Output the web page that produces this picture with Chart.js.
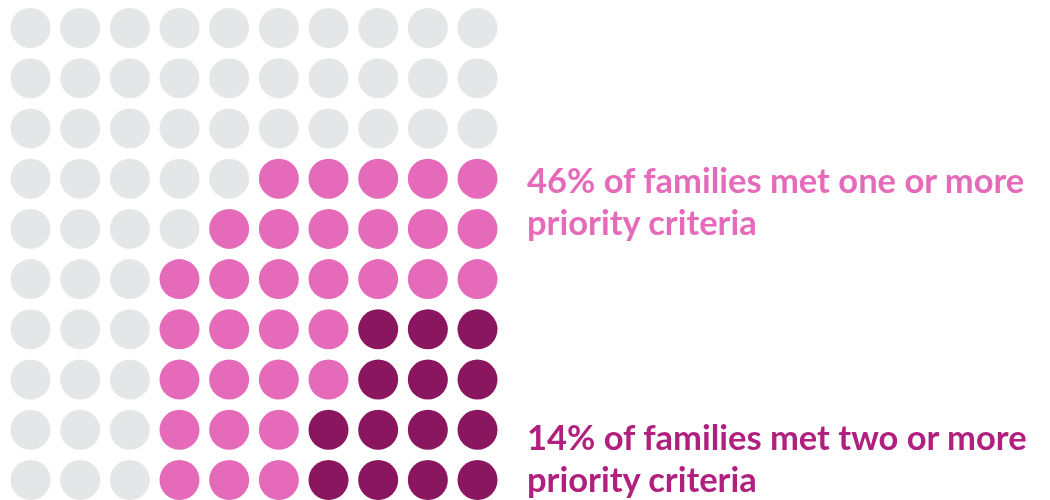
<!DOCTYPE html>
<html>
<head>
<meta charset="utf-8">
<script src="https://cdn.jsdelivr.net/npm/chart.js@4.4.0/dist/chart.umd.min.js"></script>
<style>
    html, body { margin: 0; padding: 0; background: #ffffff; }
    #wrap { position: relative; width: 1050px; height: 500px; }
    .note {
        position: absolute;
        left: 527px;
        font-family: Lato, "Open Sans", sans-serif;
        font-weight: 700;
        font-size: 34.5px;
        line-height: 42.5px;
        white-space: nowrap;
    }
    #note1 { top: 158.5px; color: #e56bba; }
    #note2 { top: 415.5px; color: #b0207f; }
</style>
</head>
<body>
<div id="wrap">
    <canvas id="waffle" width="1050" height="500"></canvas>
    <div class="note" id="note1">46% of families met one or more<br>priority criteria</div>
    <div class="note" id="note2">14% of families met two or more<br>priority criteria</div>
</div>
<script>
// dots per row (top to bottom), filled left to right: grey, then pink, then dark
var greyPerRow = [10, 10, 10, 5, 4, 3, 3, 3, 3, 3];
var pinkPerRow = [0, 0, 0, 5, 6, 7, 4, 4, 3, 3];
var darkPerRow = [0, 0, 0, 0, 0, 0, 3, 3, 4, 4];

var greyDots = [], pinkDots = [], darkDots = [];
for (var row = 0; row < 10; row++) {
    var col = 0;
    for (var i = 0; i < greyPerRow[row]; i++) greyDots.push({x: col++, y: row});
    for (var i = 0; i < pinkPerRow[row]; i++) pinkDots.push({x: col++, y: row});
    for (var i = 0; i < darkPerRow[row]; i++) darkDots.push({x: col++, y: row});
}

function dots(data, color) {
    return {
        data: data,
        backgroundColor: color,
        borderWidth: 0,
        pointRadius: 20,
        pointHoverRadius: 20,
        clip: false
    };
}

new Chart(document.getElementById('waffle').getContext('2d'), {
    type: 'scatter',
    data: {
        datasets: [
            dots(greyDots, '#e5e6e8'),
            dots(pinkDots, '#e56bba'),
            dots(darkDots, '#89165f')
        ]
    },
    options: {
        responsive: false,
        animation: false,
        events: [],
        layout: { padding: 0, autoPadding: false },
        plugins: { legend: { display: false }, tooltip: { enabled: false } },
        scales: {
            x: { display: false, min: -0.614, max: 20.526 },
            y: { display: false, reverse: true, min: -0.5575, max: 9.398 }
        }
    }
});
</script>
</body>
</html>
